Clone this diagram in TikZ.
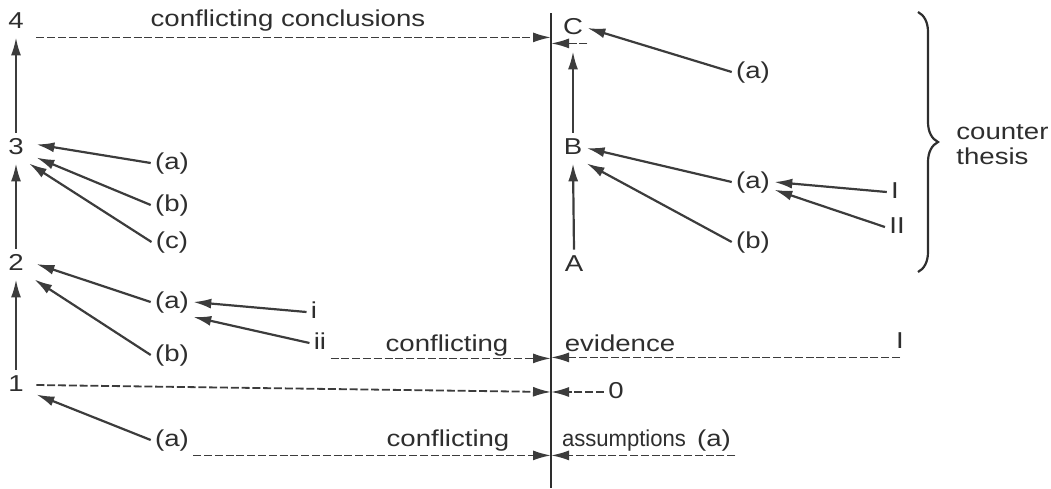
\documentclass[tikz,border=0pt]{standalone}
\usepackage{fontspec}
\setmainfont{Liberation Sans}[FakeStretch=1.2]
\usetikzlibrary{arrows.meta,decorations.pathreplacing}
\definecolor{ink}{HTML}{2e2e2e}
\definecolor{ink2}{HTML}{3c3c3c}
\tikzset{lbl/.style={text=ink, inner sep=2pt, text height=8.5pt, text depth=2.5pt},
         num/.style={lbl, minimum width=20pt},
         arr/.style={-{Latex[length=9pt,width=5pt]}, line width=1.1pt, ink2},
         darr/.style={arr, line width=0.9pt, dash pattern=on 4pt off 1.4pt}}
\begin{document}
\begin{tikzpicture}[x=0.5pt,y=-0.5pt, font=\fontsize{11.5}{13}\selectfont]
\useasboundingbox (0,0) rectangle (1051,488);
% dividing line
\coordinate (axtop) at (551,13); \coordinate (axbot) at (551,488);
\draw[ink, line width=1.1pt] (axtop) -- (axbot);
% thesis column
\foreach \n/\y in {1/385,2/264,3/148,4/22} {\node[num] (n\n) at (16,\y) {\n};}
\foreach \a/\b in {1/2,2/3,3/4} {\draw[arr] (n\a.north) -- (n\b.south);}
\node[lbl] (a3) at (172,163) {(a)}; \node[lbl] (b3) at (172,205) {(b)}; \node[lbl] (c3) at (172,242) {(c)};
\draw[arr] (a3.west) -- (n3.10); \draw[arr] (b3.west) -- (n3.-25); \draw[arr] (c3.west) -- (n3.-50);
\node[lbl] (a2) at (172,302) {(a)}; \node[lbl] (b2) at (172,355) {(b)};
\draw[arr] (a2.west) -- (n2.east); \draw[arr] (b2.west) -- (n2.-40);
\node[lbl, font=\fontsize{11.5}{13}\selectfont\rmfamily] (i2) at (314,312) {i};
\node[lbl] (ii2) at (320,343) {ii};
\draw[arr] (i2.west) -- (a2.east); \draw[arr] (ii2.west) -- (a2.-35);
\node[lbl] (a1) at (172,440) {(a)};
\draw[arr] (a1.west) -- (n1.-25);
% counter thesis column
\node[lbl] (nA) at (574,265) {A}; \node[lbl] (nB) at (573,148) {B}; \node[lbl] (nC) at (573,28) {C};
\draw[arr] (nA.north) -- (nB.south); \draw[arr, shorten >=4pt] (nB.north) -- (nC.south);
\node[lbl] (aC) at (753,72) {(a)};
\draw[arr] (aC.west) -- (nC.east);
\node[lbl] (aB) at (753,182) {(a)}; \node[lbl] (bB) at (753,242) {(b)};
\draw[arr] (aB.west) -- (nB.east); \draw[arr] (bB.west) -- (nB.south east);
\node[lbl] (iB) at (895,192) {I}; \node[lbl] (iiB) at (897,227) {II};
\draw[arr] (iB.west) -- (aB.east); \draw[arr] (iiB.west) -- (aB.-20);
% brace
\draw[ink, line width=1.1pt, decorate, decoration={brace, amplitude=10pt}] (918,12) -- (918,272);
\node[lbl, anchor=west, align=left, text height=, text depth=, font=\fontsize{11.5}{12.5}\selectfont] (ct) at (952,145) {counter\\thesis};
% conflicting rows
\node[lbl] (tconc) at (288,20) {conflicting conclusions};
\draw[darr] (n4.south east) -- (n4.south east -| axtop);
\draw[darr] (nC.south east) -- (nC.south east -| axtop);
\node[lbl] (tev1) at (447,345) {conflicting}; \node[lbl] (tev2) at (620,345) {evidence};
\node[lbl] (iE) at (900,342) {I};
\draw[darr] (ii2.south east) -- (ii2.south east -| axtop);
\draw[darr] (iE.south) -- (iE.south -| axtop);
\node[lbl] (n0) at (616,392) {0};
\draw[darr] (n1.east) -- (n0.west -| axtop);
\draw[darr] (n0.west) -- (n0.west -| axtop);
\node[lbl] (tas1) at (448,440) {conflicting}; \node[lbl] (tas2) at (624,440) {\scalebox{0.8}[1]{assumptions}};
\node[lbl] (aA) at (714,440) {(a)};
\draw[darr] (a1.south east) -- (a1.south east -| axtop);
\draw[darr] (aA.south east) -- (aA.south east -| axtop);
\end{tikzpicture}
\end{document}
